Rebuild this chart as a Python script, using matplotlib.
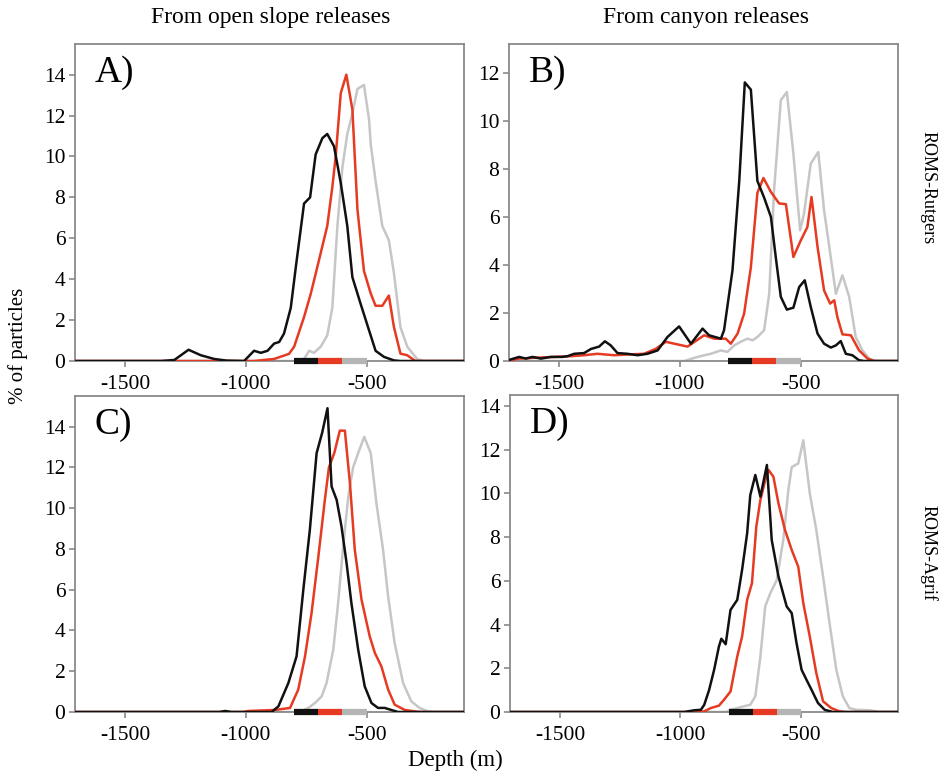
import matplotlib
matplotlib.use("Agg")
import matplotlib.pyplot as plt

plt.rcParams['font.family'] = ['Liberation Serif', 'DejaVu Serif']

# ---------------- data (depth in m, % of particles) ----------------
# Panel A: open slope releases, ROMS-Rutgers
a_black_d = [-1710, -1350, -1296, -1237, -1186, -1131, -1080, -1007, -966, -938, -910, -883, -862, -842,
             -814, -793, -759, -734, -711, -683, -663, -635, -607, -580, -559, -525, -490, -463,
             -428, -387, -360, -90]
a_black_v = [0, 0, 0.05, 0.55, 0.28, 0.1, 0.02, 0, 0.5, 0.4, 0.5, 0.85, 0.93, 1.34,
             2.6, 4.6, 7.7, 8.0, 10.1, 10.9, 11.1, 10.5, 8.7, 6.6, 4.1, 2.8, 1.5, 0.5,
             0.2, 0.03, 0, 0]
a_red_d = [-1710, -966, -883, -821, -800, -759, -731, -704, -663, -642, -628, -607, -584, -559,
           -538, -511, -483, -463, -435, -408, -387, -360, -332, -298, -90]
a_red_v = [0, 0, 0.1, 0.35, 0.7, 2.15, 3.3, 4.6, 6.6, 8.5, 10.0, 13.1, 14.0, 12.3,
           7.4, 4.4, 3.3, 2.7, 2.7, 3.2, 1.66, 0.36, 0.28, 0, 0]
a_gray_d = [-1710, -780, -759, -738, -718, -690, -663, -642, -621, -600, -580, -559, -538, -511,
            -490, -483, -463, -435, -408, -387, -360, -332, -291, -263, -90]
a_gray_v = [0, 0, 0.1, 0.5, 0.4, 0.7, 1.25, 2.6, 6.6, 9.5, 11.1, 12.1, 13.3, 13.5,
            11.8, 10.6, 8.8, 6.6, 5.9, 4.3, 1.66, 0.7, 0.1, 0, 0]

# Panel B: canyon releases, ROMS-Rutgers
b_black_d = [-1705, -1665, -1637, -1610, -1575, -1534, -1486, -1465, -1437, -1396, -1368, -1334,
             -1310, -1286, -1258, -1217, -1175, -1134, -1092, -1051, -1003, -954, -906, -879,
             -830, -817, -782, -754, -731, -706, -679, -651, -623, -603, -582, -557, -530,
             -506, -483, -458, -430, -403, -375, -354, -334, -313, -286, -258, -237, -90]
b_black_v = [0.05, 0.17, 0.1, 0.17, 0.1, 0.17, 0.17, 0.2, 0.3, 0.33, 0.5, 0.6,
             0.82, 0.65, 0.33, 0.3, 0.24, 0.3, 0.44, 1.0, 1.44, 0.72, 1.35, 1.07,
             0.93, 1.28, 3.78, 7.5, 11.6, 11.3, 7.5, 6.8, 6.0, 4.33, 2.67, 2.14, 2.22,
             3.08, 3.36, 2.25, 1.14, 0.72, 0.56, 0.65, 0.83, 0.3, 0.24, 0.03, 0, 0]
b_red_d = [-1705, -1665, -1589, -1520, -1451, -1396, -1341, -1272, -1217, -1148, -1099, -1058,
           -1023, -968, -920, -899, -858, -810, -789, -761, -734, -706, -679, -654, -623,
           -589, -561, -530, -499, -472, -455, -430, -403, -378, -361, -348, -327, -292,
           -258, -223, -196, -90]
b_red_v = [0.03, 0.1, 0.14, 0.17, 0.2, 0.24, 0.3, 0.24, 0.27, 0.3, 0.51, 0.8,
           0.72, 0.6, 0.93, 1.07, 0.93, 0.93, 0.72, 1.14, 1.97, 3.9, 7.0, 7.62, 7.04,
           6.56, 6.53, 4.33, 5.03, 5.58, 6.83, 4.75, 2.94, 2.39, 2.53, 1.83, 1.11, 1.07,
           0.44, 0.1, 0, 0]
b_gray_d = [-1710, -982, -927, -872, -830, -803, -775, -748, -720, -699, -679, -651, -630,
            -610, -582, -557, -530, -502, -486, -458, -427, -403, -354, -327, -299, -272,
            -244, -216, -189, -90]
b_gray_v = [0, 0, 0.17, 0.3, 0.44, 0.38, 0.65, 0.8, 0.93, 0.86, 1.0, 1.28, 2.8,
            7.1, 10.86, 11.2, 8.64, 5.44, 6.14, 8.22, 8.7, 6.28, 2.8, 3.57, 2.67, 1.0,
            0.44, 0.1, 0, 0]

# Panel C: open slope releases, ROMS-Agrif
c_black_d = [-1710, -1110, -1085, -1060, -893, -865, -824, -790, -762, -735, -707, -684, -662,
             -645, -624, -604, -583, -563, -535, -508, -480, -453, -425, -398, -370, -90]
c_black_v = [0, 0, 0.05, 0, 0, 0.28, 1.42, 2.73, 6.0, 8.94, 12.7, 13.7, 14.9,
             11.06, 10.4, 9.1, 7.3, 5.34, 3.06, 1.26, 0.44, 0.2, 0.2, 0.1, 0, 0]
c_red_d = [-1710, -1010, -989, -879, -817, -783, -755, -728, -700, -673, -656, -634, -611,
           -590, -569, -549, -521, -487, -466, -439, -411, -384, -342, -301, -274, -90]
c_red_v = [0, 0, 0.05, 0.1, 0.2, 1.1, 2.73, 4.85, 7.6, 10.4, 12.0, 12.7, 13.8,
           13.8, 11.2, 7.96, 5.5, 3.7, 2.9, 2.24, 1.1, 0.36, 0.1, 0.03, 0, 0]
c_gray_d = [-1710, -790, -769, -741, -714, -686, -666, -638, -618, -597, -576, -556, -535,
            -510, -483, -459, -432, -411, -384, -349, -315, -281, -246, -219, -90]
c_gray_v = [0, 0, 0.05, 0.2, 0.44, 0.77, 1.42, 3.06, 5.34, 8.12, 10.57, 12.0, 12.7,
            13.5, 12.7, 10.2, 7.96, 5.67, 3.38, 1.42, 0.52, 0.2, 0.03, 0, 0]

# Panel D: canyon releases, ROMS-Agrif
d_black_d = [-1710, -984, -942, -915, -901, -881, -860, -840, -830, -812, -792, -764, -744,
             -723, -710, -689, -668, -641, -621, -593, -559, -538, -518, -497, -477, -456,
             -429, -401, -367, -90]
d_black_v = [0, 0, 0.08, 0.1, 0.33, 1.0, 1.93, 3.0, 3.35, 3.1, 4.67, 5.13, 6.5,
             8.17, 9.92, 10.84, 9.85, 11.3, 7.87, 6.2, 4.83, 4.52, 3.15, 1.93, 1.48, 1.02,
             0.41, 0.1, 0, 0]
d_red_d = [-1710, -920, -901, -874, -840, -819, -792, -764, -744, -723, -703, -685, -668,
           -648, -634, -614, -593, -566, -538, -511, -490, -463, -436, -408, -374, -340,
           -312, -90]
d_red_v = [0, 0, 0.03, 0.18, 0.29, 0.56, 0.94, 2.54, 3.45, 5.13, 5.89, 8.48, 9.7,
           10.6, 11.07, 10.76, 9.54, 8.33, 7.41, 6.65, 4.98, 3.45, 1.78, 0.49, 0.18, 0.03,
           0, 0]
d_gray_d = [-1710, -810, -792, -764, -737, -710, -689, -668, -648, -627, -600, -573, -552,
            -538, -511, -490, -463, -436, -408, -381, -353, -326, -299, -271, -216, -175, -90]
d_gray_v = [0, 0, 0.1, 0.18, 0.26, 0.33, 0.72, 2.54, 4.83, 5.43, 6.04, 7.87, 10.15,
            11.2, 11.37, 12.43, 10.0, 8.33, 6.2, 4.06, 1.93, 0.72, 0.18, 0.1, 0.08, 0, 0]

# release depth ranges (bars on the x axis)
release_ranges = [(-800, -700), (-700, -600), (-600, -500)]

panel_labels = ["A)", "B)", "C)", "D)"]
col_titles = ["From open slope releases", "From canyon releases"]
row_labels = ["ROMS-Rutgers", "ROMS-Agrif"]
xticks = [-1500, -1000, -500]
yticks_list = [[0, 2, 4, 6, 8, 10, 12, 14], [0, 2, 4, 6, 8, 10, 12],
               [0, 2, 4, 6, 8, 10, 12, 14], [0, 2, 4, 6, 8, 10, 12, 14]]
ylims = [15.5, 13.2, 15.5, 14.5]

BLACK = "#111111"
RED = "#e63a22"
GRAY = "#c6c6c6"
SPINE = "#8a8a8a"

panels = [
    [(a_black_d, a_black_v, BLACK), (a_red_d, a_red_v, RED), (a_gray_d, a_gray_v, GRAY)],
    [(b_black_d, b_black_v, BLACK), (b_red_d, b_red_v, RED), (b_gray_d, b_gray_v, GRAY)],
    [(c_black_d, c_black_v, BLACK), (c_red_d, c_red_v, RED), (c_gray_d, c_gray_v, GRAY)],
    [(d_black_d, d_black_v, BLACK), (d_red_d, d_red_v, RED), (d_gray_d, d_gray_v, GRAY)],
]

fig = plt.figure(figsize=(9.44, 7.76), dpi=100)
W, H = 944, 776
boxes = [(75, 44, 464, 361), (509, 44, 898, 361), (75, 396, 464, 712), (510, 395, 898, 712)]

for i, (l, t, r, b) in enumerate(boxes):
    ax = fig.add_axes([l / W, 1 - b / H, (r - l) / W, (b - t) / H])
    for d, v, c in reversed(panels[i]):
        ax.plot(d, v, color=c, lw=1.8, zorder=3 if c != GRAY else 2)
    ax.set_xlim(-1707, -97)
    ax.set_ylim(0, ylims[i])
    ax.set_xticks(xticks)
    ax.set_xticklabels([str(x) for x in xticks])
    ax.set_yticks(yticks_list[i])
    for s in ax.spines.values():
        s.set_color(SPINE)
        s.set_linewidth(1.3)
    ax.tick_params(axis='both', colors=SPINE, labelcolor='black', labelsize=15.5,
                   length=4, width=1.2, direction='out', pad=3)
    ax.tick_params(axis='x', pad=6)
    for (x0, x1), c in zip(release_ranges, [BLACK, RED, "#b5b5b5"]):
        ax.plot([x0, x1], [0, 0], color=c, lw=4.5, solid_capstyle='butt',
                clip_on=False, zorder=5)
    ax.text(0.05, 0.965, panel_labels[i], transform=ax.transAxes, fontsize=27,
            va='top', ha='left')

fig.text(271 / W, 1 - 18 / H, col_titles[0], ha='center', va='center', fontsize=17)
fig.text(706 / W, 1 - 18 / H, col_titles[1], ha='center', va='center', fontsize=17)
fig.text(18 / W, 1 - 346 / H, "% of particles", rotation=90, ha='center', va='center', fontsize=15)
fig.text(455 / W, 1 - 760 / H, "Depth (m)", ha='center', va='center', fontsize=16.5)
fig.text(928 / W, 1 - 188 / H, row_labels[0], rotation=270, ha='center', va='center', fontsize=13)
fig.text(928 / W, 1 - 553 / H, row_labels[1], rotation=270, ha='center', va='center', fontsize=13)

fig.savefig("out.png", dpi=100)
